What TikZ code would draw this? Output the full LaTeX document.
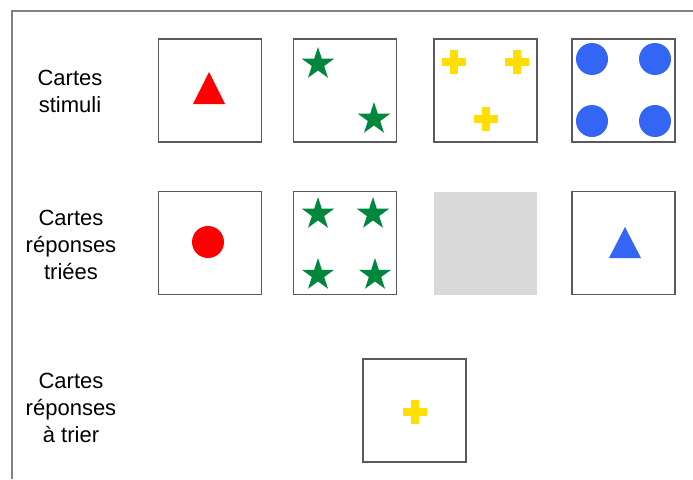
\documentclass[tikz,border=0pt]{standalone}
\usepackage{fontspec}
\setmainfont{Liberation Sans}
\usetikzlibrary{shapes.geometric}
\definecolor{cred}{RGB}{255,0,0}
\definecolor{cgreen}{RGB}{0,135,62}
\definecolor{cyellow}{RGB}{255,222,0}
\definecolor{cblue}{RGB}{51,102,245}
\definecolor{cardgray}{RGB}{217,217,217}
\definecolor{cardborder}{RGB}{90,90,90}
\definecolor{framegray}{RGB}{128,128,128}
\begin{document}
\begin{tikzpicture}[x=1pt,y=-1pt,
  card/.style={draw=cardborder, line width=1.2pt, minimum width=103pt, minimum height=103pt, inner sep=0pt, fill=white},
  blankcard/.style={fill=cardgray, minimum width=103pt, minimum height=103pt, inner sep=0pt},
  lbl/.style={align=center, font=\fontsize{22}{27}\selectfont, inner sep=0pt},
  greenstar/.style={star, star points=5, star point ratio=2.618, minimum size=34pt, inner sep=0pt, fill=cgreen},
  bluedot/.style={circle, minimum size=32pt, inner sep=0pt, fill=cblue},
  reddot/.style={circle, minimum size=32pt, inner sep=0pt, fill=cred},
  yellowcross/.pic={\fill[cyellow] (-12,-4) rectangle (12,4); \fill[cyellow] (-4,-12) rectangle (4,12);}
]
\useasboundingbox (0,0) rectangle (693,479);
\fill[white] (0,0) rectangle (693,479);
% frame
\draw[framegray, line width=2pt] (12,479) -- (12,11) -- (693,11);

% labels
\node[lbl] (l1) at (70,91) {Cartes\\stimuli};
\node[lbl] (l2) at (71,245) {Cartes\\réponses\\triées};
\node[lbl] (l3) at (71,408) {Cartes\\réponses\\à trier};

% row 1
\node[card] (s1) at (210,90.5) {};
\node[card] (s2) at (345,90.5) {};
\node[card] (s3) at (485.5,90.5) {};
\node[card] (s4) at (623.5,90.5) {};
% row 2
\node[card] (r1) at (210,243) {};
\node[card] (r2) at (345,243) {};
\node[blankcard] (r3) at (485.5,243) {};
\node[card] (r4) at (623.5,243) {};
% row 3
\node[card] (t1) at (414.5,410.5) {};

% stimuli contents
\fill[cred] (209,72) -- (225,104) -- (193,104) -- cycle;
\node[greenstar] (st1) at (318,64) {};
\node[greenstar] (st2) at (374,119) {};
\pic at (454,62) {yellowcross};
\pic at (517,62) {yellowcross};
\pic at (486,119) {yellowcross};
\node[bluedot] (b1) at (592,59) {};
\node[bluedot] (b2) at (655,59) {};
\node[bluedot] (b3) at (592,121) {};
\node[bluedot] (b4) at (655,121) {};

% sorted responses contents
\node[reddot] (rd) at (208,242) {};
\node[greenstar] (g1) at (318,214) {};
\node[greenstar] (g2) at (373,214) {};
\node[greenstar] (g3) at (318,275) {};
\node[greenstar] (g4) at (375,275) {};
\fill[cblue] (625,227) -- (641,258) -- (609,258) -- cycle;

% to sort
\pic at (415,412) {yellowcross};
\end{tikzpicture}
\end{document}
